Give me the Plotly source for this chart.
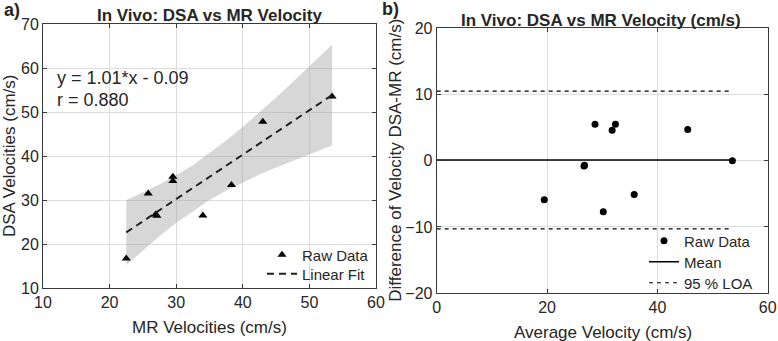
import plotly.graph_objects as go

# ---------------- data ----------------
# Panel a: DSA vs MR velocities
mr_vel = [22.5, 25.8, 29.5, 29.5, 26.9, 27.1, 34.0, 38.3, 43.0, 53.4]
dsa_vel = [16.7, 31.5, 35.3, 34.3, 26.7, 26.4, 26.5, 33.4, 47.8, 53.5]

fit_x = [22.5, 53.4]
fit_y = [22.64, 53.84]

band_x = [22.5, 25, 27.5, 30, 32.5, 35, 37.5, 40, 42.5, 45, 47.5, 50, 53.4]
band_upper = [30.0, 31.7, 33.6, 35.6, 37.9, 40.6, 43.5, 46.6, 49.9, 53.3, 56.8, 60.4, 65.3]
band_lower = [15.2, 18.6, 21.8, 24.8, 27.5, 30.0, 32.1, 34.0, 35.8, 37.4, 38.9, 40.4, 42.4]

eq_text = "y = 1.01*x - 0.09"
r_text = "r = 0.880"

# Panel b: Bland-Altman
avg_vel = [19.5, 28.7, 32.4, 31.8, 26.7, 26.8, 30.2, 35.8, 45.5, 53.6]
diff_vel = [-5.9, 5.5, 5.5, 4.6, -0.8, -0.7, -7.7, -5.1, 4.7, 0.0]

ba_line_x = [0, 53.6]
mean_diff = [0.1, 0.1]
loa_upper = [10.5, 10.5]
loa_lower = [-10.3, -10.3]

# ---------------- styling ----------------
FONT = "Liberation Sans, Arial, Helvetica, sans-serif"
TXT = "#262626"
AX = "#3a3a3a"
GRID = "#dcdcdc"

W, H = 778, 341


def px_x(p):
    return p / W


def px_y(p):
    return 1 - p / H


fig = go.Figure()

# confidence band
fig.add_trace(go.Scatter(x=band_x, y=band_upper, mode="lines", line=dict(width=0),
                         hoverinfo="skip", showlegend=False, xaxis="x", yaxis="y"))
fig.add_trace(go.Scatter(x=band_x, y=band_lower, mode="lines", line=dict(width=0),
                         fill="tonexty", fillcolor="rgba(160,160,160,0.42)",
                         hoverinfo="skip", showlegend=False, xaxis="x", yaxis="y"))
# raw data
fig.add_trace(go.Scatter(x=mr_vel, y=dsa_vel, mode="markers", name="Raw Data",
                         marker=dict(symbol="triangle-up", size=8, color="black"),
                         xaxis="x", yaxis="y", legend="legend"))
# linear fit
fig.add_trace(go.Scatter(x=fit_x, y=fit_y, mode="lines", name="Linear Fit",
                         line=dict(color="#222222", width=2, dash="7px,5px"),
                         xaxis="x", yaxis="y", legend="legend2"))

# panel b
fig.add_trace(go.Scatter(x=avg_vel, y=diff_vel, mode="markers", name="Raw Data",
                         marker=dict(symbol="circle", size=7, color="black"),
                         xaxis="x2", yaxis="y2", legend="legend3"))
fig.add_trace(go.Scatter(x=ba_line_x, y=mean_diff, mode="lines", name="Mean",
                         line=dict(color="black", width=1.5),
                         xaxis="x2", yaxis="y2", legend="legend4"))
fig.add_trace(go.Scatter(x=ba_line_x, y=loa_upper, mode="lines", name="95 % LOA",
                         line=dict(color="black", width=1.2, dash="4px,4px"),
                         xaxis="x2", yaxis="y2", legend="legend5"))
fig.add_trace(go.Scatter(x=ba_line_x, y=loa_lower, mode="lines", name="95 % LOA",
                         line=dict(color="black", width=1.2, dash="4px,4px"),
                         showlegend=False, xaxis="x2", yaxis="y2", legend="legend5"))

axis_common = dict(showline=True, linecolor=AX, linewidth=1, mirror="allticks",
                   ticks="inside", ticklen=4, tickcolor=AX, tickwidth=1,
                   showgrid=True, gridcolor=GRID, gridwidth=1, zeroline=False,
                   automargin=False,
                   tickfont=dict(family=FONT, size=16, color=TXT))


def leg(text_left, row_center):
    # one legend per entry so rows can sit exactly where the reference has them
    return dict(x=px_x(text_left - 40), y=px_y(row_center), xanchor="left", yanchor="middle",
                bgcolor="rgba(255,255,255,0)", borderwidth=0,
                font=dict(family=FONT, size=15, color=TXT),
                tracegroupgap=0, itemwidth=30, traceorder="normal")


fig.update_layout(
    width=W, height=H,
    margin=dict(l=0, r=0, t=0, b=0, autoexpand=False),
    paper_bgcolor="white", plot_bgcolor="white",
    font=dict(family=FONT, color=TXT),
    xaxis=dict(domain=[px_x(43), px_x(376)], range=[10, 60], dtick=10, tick0=10,
               anchor="y", **axis_common),
    yaxis=dict(domain=[px_y(288), px_y(24)], range=[10, 70], dtick=10, tick0=10,
               anchor="x", **axis_common),
    xaxis2=dict(domain=[px_x(436.7), px_x(767.7)], range=[0, 60], dtick=20, tick0=0,
                anchor="y2", **axis_common),
    yaxis2=dict(domain=[px_y(293.1), px_y(28.3)], range=[-20, 20], dtick=10, tick0=0,
                anchor="x2", **axis_common),
    legend=leg(302, 255),
    legend2=leg(302, 274),
    legend3=leg(684, 241),
    legend4=leg(684, 262),
    legend5=leg(684, 283),
    showlegend=True,
)

ann = [
    dict(text="<b>In Vivo: DSA vs MR Velocity</b>", x=px_x(209.5), y=px_y(16),
         font=dict(size=17)),
    dict(text="<b>In Vivo: DSA vs MR Velocity (cm/s)</b>", x=px_x(601), y=px_y(20.5),
         font=dict(size=17)),
    dict(text="<b>a)</b>", x=px_x(2), y=px_y(10), xanchor="left", font=dict(size=18)),
    dict(text="<b>b)</b>", x=px_x(380), y=px_y(9), xanchor="left", font=dict(size=18)),
    dict(text="DSA Velocities (cm/s)", x=px_x(9), y=px_y(156), textangle=-90,
         font=dict(size=17)),
    dict(text="Difference of Velocity DSA-MR (cm/s)", x=px_x(396), y=px_y(160.7),
         textangle=-90, font=dict(size=17)),
    dict(text="MR Velocities (cm/s)", x=px_x(209), y=px_y(327.5), font=dict(size=17)),
    dict(text="Average Velocity (cm/s)", x=px_x(602.5), y=px_y(332.5), font=dict(size=17)),
]
for a in ann:
    base = dict(xref="paper", yref="paper", showarrow=False, xanchor="center",
                yanchor="middle")
    f = a.pop("font")
    base.update(a)
    base["font"] = dict(family=FONT, color=TXT, **f)
    fig.add_annotation(**base)

fig.add_annotation(text=eq_text, x=11.8, y=57.7, xref="x", yref="y", showarrow=False,
                   xanchor="left", yanchor="middle",
                   font=dict(family=FONT, size=18, color=TXT))
fig.add_annotation(text=r_text, x=11.8, y=52.7, xref="x", yref="y", showarrow=False,
                   xanchor="left", yanchor="middle",
                   font=dict(family=FONT, size=18, color=TXT))

fig.write_html(
    "out.html",
    config={"displayModeBar": False},
    post_script="document.body.style.margin='0px';document.body.style.overflow='hidden';",
)
